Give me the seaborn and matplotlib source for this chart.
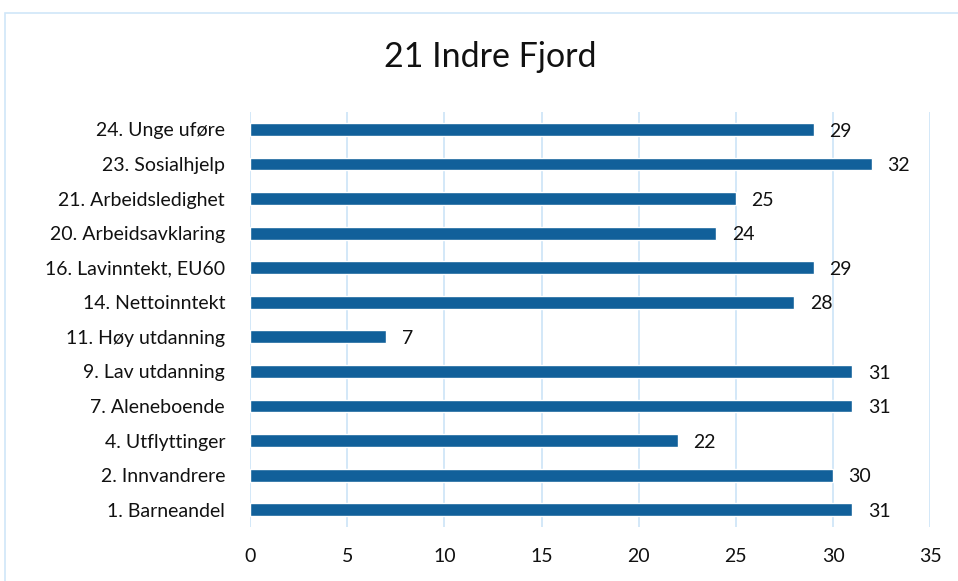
import matplotlib
matplotlib.use("Agg")
import matplotlib.pyplot as plt
import matplotlib.patches as mpatches
import seaborn as sns
import pandas as pd

title = "21 Indre Fjord"
categories = [
    "24. Unge uføre",
    "23. Sosialhjelp",
    "21. Arbeidsledighet",
    "20. Arbeidsavklaring",
    "16. Lavinntekt, EU60",
    "14. Nettoinntekt",
    "11. Høy utdanning",
    "9. Lav utdanning",
    "7. Aleneboende",
    "4. Utflyttinger",
    "2. Innvandrere",
    "1. Barneandel",
]
values = [29, 32, 25, 24, 29, 28, 7, 31, 31, 22, 30, 31]
x_ticks = [0, 5, 10, 15, 20, 25, 30, 35]

df = pd.DataFrame({"kategori": categories, "verdi": values})

sns.set_theme(style="white")
plt.rcParams["font.family"] = ["Lato", "DejaVu Sans"]

bar_color = "#11609A"
grid_color = "#D0E6F8"
text_color = "#111111"

fig = plt.figure(figsize=(9.58, 5.81), dpi=100)
fig.patch.set_facecolor("white")

# chart frame
frame = mpatches.Rectangle((5 / 958, -0.1), 1.2, 1.1 - 13 / 581,
                           transform=fig.transFigure, fill=False,
                           edgecolor=grid_color, linewidth=1.2)
fig.patches.append(frame)

ax = fig.add_axes([0.261, 0.093, 0.710, 0.714])
sns.barplot(data=df, x="verdi", y="kategori", color=bar_color,
            width=0.37, saturation=1, ax=ax, orient="h")

ax.set_xlim(0, 35)
ax.set_xticks(x_ticks)
ax.set_xticklabels([str(t) for t in x_ticks], fontsize=14, color=text_color)
ax.tick_params(axis="y", labelsize=14, labelcolor=text_color, length=0, pad=18)
ax.tick_params(axis="x", length=0, pad=15)
ax.set_xlabel("")
ax.set_ylabel("")
for spine in ax.spines.values():
    spine.set_visible(False)
for t in x_ticks:
    ax.axvline(t, color=grid_color, linewidth=1.3, zorder=0)

for i, v in enumerate(values):
    ax.text(v + 0.8, i + 0.05, str(v), va="center", ha="left",
            fontsize=14, color=text_color)

fig.text(0.512, 0.902, title, ha="center", va="center", fontsize=24.5,
         color=text_color)

fig.savefig("out.png", dpi=100, facecolor="white")
